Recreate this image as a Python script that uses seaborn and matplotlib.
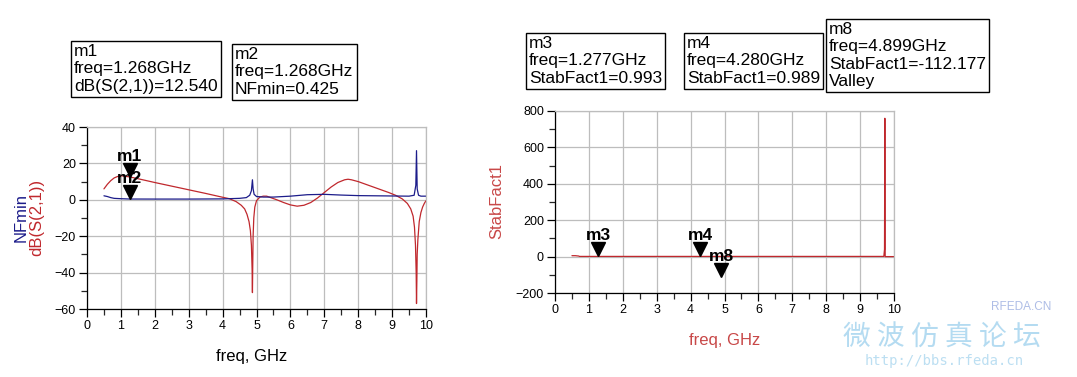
import numpy as np
import pandas as pd
import matplotlib
matplotlib.use('Agg')
import matplotlib.pyplot as plt
import seaborn as sns
from matplotlib.ticker import MultipleLocator
from matplotlib.transforms import ScaledTranslation

# ---- data ----
freq_s21 = [0.5, 0.6, 0.7, 0.8, 0.9, 1.0, 1.1, 1.268, 1.5, 2.0, 2.5, 3.0, 3.5, 4.0, 4.2,
            4.4, 4.55, 4.65, 4.72, 4.78, 4.82, 4.85, 4.87, 4.88, 4.89, 4.9, 4.92, 4.95,
            5.0, 5.1, 5.2, 5.3, 5.45, 5.6, 5.8, 6.0, 6.2, 6.4, 6.6, 6.8, 7.0, 7.2, 7.4,
            7.6, 7.7, 7.8, 8.0, 8.3, 8.6, 8.9, 9.1, 9.3, 9.45, 9.55, 9.62, 9.66, 9.69,
            9.71, 9.72, 9.73, 9.74, 9.76, 9.8, 9.85, 9.9, 9.95, 10.0]
s21_db = [6.0, 8.5, 10.5, 12.0, 12.8, 13.2, 13.0, 12.54, 11.6, 9.5, 7.5, 5.5, 3.5, 1.4, 0.6,
          -1.0, -3.0, -5.0, -8.0, -12.0, -17.0, -25.0, -38.0, -51.0, -35.0, -20.0, -10.0, -4.0,
          -0.5, 1.5, 2.0, 2.0, 1.0, 0.0, -1.5, -2.8, -3.5, -3.0, -1.5, 1.0, 4.0, 7.0, 9.5,
          11.0, 11.3, 11.0, 10.0, 8.0, 6.0, 4.0, 2.5, 0.5, -2.0, -5.0, -9.0, -15.0, -25.0,
          -40.0, -57.0, -45.0, -30.0, -22.0, -12.0, -7.0, -4.0, -2.0, -0.5]

freq_nf = [0.5, 0.6, 0.7, 0.8, 1.0, 1.268, 2.0, 3.0, 4.0, 4.5, 4.7, 4.8, 4.85, 4.88, 4.9,
           4.93, 5.0, 5.2, 5.5, 6.0, 6.5, 7.0, 7.5, 8.0, 8.5, 9.0, 9.5, 9.65, 9.7, 9.72,
           9.74, 9.78, 9.85, 10.0]
nf_min = [2.2, 1.8, 1.2, 0.8, 0.6, 0.425, 0.4, 0.4, 0.5, 0.8, 1.2, 2.5, 5.0, 11.0, 6.0,
          3.0, 1.8, 1.5, 1.5, 2.0, 2.8, 3.0, 2.6, 2.3, 2.2, 2.1, 2.0, 2.5, 8.0, 27.0,
          6.0, 2.5, 2.0, 2.0]

freq_stab = [0.5, 0.6, 0.7, 0.72, 1.0, 2.0, 3.0, 4.0, 5.0, 6.0, 7.0, 8.0, 9.0, 9.7,
             9.72, 9.73, 9.74, 9.8, 10.0]
stab_fact = [5.0, 5.0, 3.0, 1.0, 1.0, 1.0, 1.0, 1.0, 1.0, 1.0, 1.0, 1.0, 1.0, 1.0,
             40.0, 760.0, 0.0, 0.0, 0.0]

left_markers = [('m1', 1.268, 12.540), ('m2', 1.268, 0.425)]
right_markers = [('m3', 1.277, 0.993), ('m4', 4.280, 0.989), ('m8', 4.899, -112.177)]

readouts = [
    ('m1\nfreq=1.268GHz\ndB(S(2,1))=12.540', 74, 44),
    ('m2\nfreq=1.268GHz\nNFmin=0.425', 235, 47),
    ('m3\nfreq=1.277GHz\nStabFact1=0.993', 529, 36),
    ('m4\nfreq=4.280GHz\nStabFact1=0.989', 687, 36),
    ('m8\nfreq=4.899GHz\nStabFact1=-112.177\nValley', 829, 22),
]

RED = '#c0282d'
NAVY = '#1c1c8a'

sns.set_style('white')
plt.rcParams['font.family'] = ['Liberation Sans', 'Noto Sans CJK SC', 'DejaVu Sans']

W, H = 1077, 377
fig = plt.figure(figsize=(W / 100, H / 100), dpi=100)


def px_axes(x0, y0, x1, y1):
    return fig.add_axes([x0 / W, 1 - y1 / H, (x1 - x0) / W, (y1 - y0) / H])


def style_axes(ax, ymaj, ymin):
    ax.set_xlim(0, 10)
    ax.xaxis.set_major_locator(MultipleLocator(1))
    ax.xaxis.set_minor_locator(MultipleLocator(0.5))
    ax.yaxis.set_major_locator(MultipleLocator(ymaj))
    ax.yaxis.set_minor_locator(MultipleLocator(ymin))
    ax.grid(True, which='major', color='#bdbdbd', lw=0.9)
    ax.set_axisbelow(True)
    ax.tick_params(which='major', direction='out', length=6, width=0.9,
                   labelsize=9, colors='black', pad=2, left=True, bottom=True)
    ax.tick_params(which='minor', direction='out', length=4, width=0.9,
                   left=True, bottom=True)
    for side in ['left', 'bottom']:
        ax.spines[side].set_color('black')
        ax.spines[side].set_linewidth(0.9)
    for side in ['top', 'right']:
        ax.spines[side].set_color('#bdbdbd')
        ax.spines[side].set_linewidth(0.9)
    ax.set_xlabel('')
    ax.set_ylabel('')


def draw_markers(ax, markers):
    shift = ax.transData + ScaledTranslation(0, 5 / 72, fig.dpi_scale_trans)
    for name, fx, fy in markers:
        ax.plot([fx], [fy], marker='v', ms=10, color='black', ls='none',
                transform=shift, clip_on=False, zorder=5)
        ax.annotate(name, xy=(fx, fy), xytext=(0, 9.5), textcoords='offset points',
                    ha='center', va='bottom', fontsize=12.5, fontweight='bold',
                    color='black', zorder=6)


# ---- left plot: dB(S21) and NFmin ----
ax1 = px_axes(87, 127, 426, 309)
df_s21 = pd.DataFrame({'freq': freq_s21, 'val': s21_db})
df_nf = pd.DataFrame({'freq': freq_nf, 'val': nf_min})
sns.lineplot(data=df_s21, x='freq', y='val', ax=ax1, color=RED, lw=0.9,
             estimator=None, sort=False)
sns.lineplot(data=df_nf, x='freq', y='val', ax=ax1, color=NAVY, lw=0.9,
             estimator=None, sort=False)
ax1.set_ylim(-60, 40)
style_axes(ax1, 20, 10)
draw_markers(ax1, left_markers)

fig.text(21 / W, 1 - 218 / H, 'NFmin', rotation=90, color=NAVY, fontsize=12,
         ha='center', va='center')
fig.text(37 / W, 1 - 217 / H, 'dB(S(2,1))', rotation=90, color=RED, fontsize=12,
         ha='center', va='center')
fig.text(252 / W, 1 - 356 / H, 'freq, GHz', color='black', fontsize=12,
         ha='center', va='center')

# ---- right plot: StabFact1 ----
ax2 = px_axes(555, 111, 894, 293)
df_stab = pd.DataFrame({'freq': freq_stab, 'val': stab_fact})
sns.lineplot(data=df_stab, x='freq', y='val', ax=ax2, color=RED, lw=0.9,
             estimator=None, sort=False)
ax2.set_ylim(-200, 800)
style_axes(ax2, 200, 100)
draw_markers(ax2, right_markers)

fig.text(497 / W, 1 - 201 / H, 'StabFact1', rotation=90, color='#c84848', fontsize=12,
         ha='center', va='center')
fig.text(725 / W, 1 - 340 / H, 'freq, GHz', color='#c84848', fontsize=12,
         ha='center', va='center')

# ---- marker readout boxes ----
for txt, x, y in readouts:
    fig.text(x / W, 1 - y / H, txt, ha='left', va='top', fontsize=12.5, linespacing=1.2,
             color='black',
             bbox=dict(boxstyle='square,pad=0.18', fc='white', ec='black', lw=1))

# ---- watermark ----
fig.text(942 / W, 1 - 338 / H, '微 波 仿 真 论 坛', color='#b4dbf1', fontsize=20,
         ha='center', va='center', family=['Noto Sans CJK SC', 'DejaVu Sans'])
fig.text(944 / W, 1 - 361 / H, 'http://bbs.rfeda.cn', color='#bcdff2', fontsize=10,
         ha='center', va='center', family=['DejaVu Sans Mono'])
fig.text(1021 / W, 1 - 307 / H, 'RFEDA.CN', color='#aebde6', fontsize=8.5,
         ha='center', va='center')

fig.savefig('out.png', dpi=100, facecolor='white')
